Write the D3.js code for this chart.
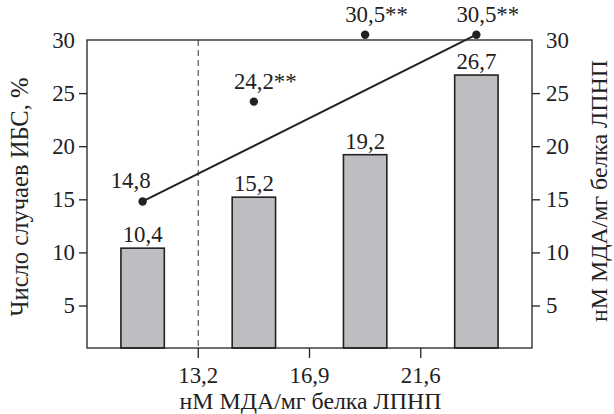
<!DOCTYPE html>
<html>
<head>
<meta charset="utf-8">
<script src="https://cdn.jsdelivr.net/npm/d3@7/dist/d3.min.js"></script>
<style>
  html, body { margin: 0; padding: 0; background: #fff; }
</style>
</head>
<body>
<svg id="chart" width="614" height="414"></svg>
<script>
// Groups along the x axis (quartiles of MDA per mg LDL protein)
const groups = ["Q1", "Q2", "Q3", "Q4"];
// Quartile cut points shown between groups
const cutLabels = ["13,2", "16,9", "21,6"];
// Share of CHD cases per group, % (bars, left axis)
const chdPercent = [10.4, 15.2, 19.2, 26.7];
// Mean MDA level per group (points, right axis)
const mdaLevel = [14.8, 24.2, 30.5, 30.5];
// Significance marks next to point labels
const mdaMarks = ["", "**", "**", "**"];
// Y tick values, both axes
const yTicks = [5, 10, 15, 20, 25, 30];

const FONT = "'Liberation Serif', 'Times New Roman', 'DejaVu Serif', serif";
const fmt = v => String(v).replace(".", ",");
const ink = "#222";

const svg = d3.select("#chart");
const margin = { left: 87, right: 82, top: 40, bottom: 66 };
const W = 614, H = 414;
const x0 = margin.left, x1 = W - margin.right;
const y0 = H - margin.bottom, y1 = margin.top;

// Font size that gives a string the wanted rendered length
function sizeFor(str, length) {
  const t = svg.append("text").style("font-family", FONT).style("font-size", "100px").text(str);
  const w = t.node().getComputedTextLength();
  t.remove();
  return 100 * length / w;
}
const fsNum = sizeFor("10,4", 40);
const fsTitleX = sizeFor("нМ МДА/мг белка ЛПНП", 262);
const fsTitleL = sizeFor("Число случаев ИБС, %", 239);

function styleText(sel, size) {
  return sel.style("font-family", FONT).style("font-size", size + "px").style("fill", ink);
}

const x = d3.scaleBand().domain(groups).range([x0, x1])
  .paddingInner(0.61).paddingOuter(0.305);
const y = d3.scaleLinear().domain([1, 30]).range([y0, y1]);
const yR = d3.scaleLinear().domain([1, 30]).range([y0, y1]);

// Bars
svg.append("g").selectAll("rect").data(groups).join("rect")
  .attr("x", d => x(d))
  .attr("width", x.bandwidth())
  .attr("y", (d, i) => y(chdPercent[i]))
  .attr("height", (d, i) => y0 - y(chdPercent[i]))
  .attr("fill", "#bdbec2")
  .attr("stroke", ink)
  .attr("stroke-width", 1.6);

// Bar value labels
styleText(svg.append("g").selectAll("text").data(groups).join("text")
  .attr("x", d => x(d) + x.bandwidth() / 2)
  .attr("y", (d, i) => y(chdPercent[i]) - 6)
  .attr("text-anchor", "middle")
  .text((d, i) => fmt(chdPercent[i])), fsNum);

// Dashed threshold line at the first cut point
const cutX = (x(groups[0]) + x.bandwidth() + x(groups[1])) / 2;
svg.append("line")
  .attr("x1", cutX).attr("x2", cutX)
  .attr("y1", y1).attr("y2", y0)
  .attr("stroke", "#555").attr("stroke-width", 1.2)
  .attr("stroke-dasharray", "6,4");

// Frame
svg.append("rect")
  .attr("x", x0).attr("y", y1)
  .attr("width", x1 - x0).attr("height", y0 - y1)
  .attr("fill", "none").attr("stroke", ink).attr("stroke-width", 1.3);

// Left axis
const leftAxis = svg.append("g").attr("transform", `translate(${x0},0)`)
  .call(d3.axisLeft(y).tickValues(yTicks).tickSize(8).tickPadding(4).tickFormat(fmt));
// Right axis
const rightAxis = svg.append("g").attr("transform", `translate(${x1},0)`)
  .call(d3.axisRight(yR).tickValues(yTicks).tickSize(8).tickPadding(6).tickFormat(fmt));
[leftAxis, rightAxis].forEach(g => {
  g.attr("font-family", null).attr("font-size", null);
  g.select(".domain").remove();
  g.selectAll(".tick line").attr("stroke", ink).attr("stroke-width", 1.3)
    .filter(d => d === 30).remove();
  styleText(g.selectAll(".tick text"), fsNum);
});

// Bottom axis: cut points between groups
const cuts = groups.slice(1).map(g => x(g) - x.step() * x.paddingInner() / 2);
const bottom = svg.append("g");
bottom.selectAll("line").data(cuts).join("line")
  .attr("x1", d => d).attr("x2", d => d)
  .attr("y1", y0).attr("y2", y0 + 10)
  .attr("stroke", ink).attr("stroke-width", 1.3);
styleText(bottom.selectAll("text").data(cuts).join("text")
  .attr("x", d => d).attr("y", y0 + 35)
  .attr("text-anchor", "middle")
  .text((d, i) => cutLabels[i]), fsNum);

// Trend line between first and last group means
const cx = d => x(d) + x.bandwidth() / 2;
const last = groups.length - 1;
svg.append("line")
  .attr("x1", cx(groups[0])).attr("y1", yR(mdaLevel[0]))
  .attr("x2", cx(groups[last])).attr("y2", yR(mdaLevel[last]))
  .attr("stroke", ink).attr("stroke-width", 2);

// Points
svg.append("g").selectAll("circle").data(groups).join("circle")
  .attr("cx", cx).attr("cy", (d, i) => yR(mdaLevel[i]))
  .attr("r", 4.2).attr("fill", ink);

// Point labels: value centered over the point, marks appended after
const pl = svg.append("g").selectAll("g").data(groups).join("g")
  .attr("transform", (d, i) => {
    const dx = i === 0 ? -12 : 0;
    return `translate(${cx(d) + dx},${yR(mdaLevel[i]) - 13})`;
  });
const valText = styleText(pl.append("text").attr("text-anchor", "middle")
  .text((d, i) => fmt(mdaLevel[i])), fsNum);
styleText(pl.append("text").attr("text-anchor", "start")
  .attr("x", (d, i) => valText.nodes()[i].getComputedTextLength() / 2)
  .text((d, i) => mdaMarks[i]), fsNum);

// Axis titles
styleText(svg.append("text")
  .attr("transform", `translate(${x0 + (x1 - x0) / 2 + 1},${H - 5})`)
  .attr("text-anchor", "middle")
  .text("нМ МДА/мг белка ЛПНП"), fsTitleX);
styleText(svg.append("text")
  .attr("transform", `translate(28,197) rotate(-90)`)
  .attr("text-anchor", "middle")
  .text("Число случаев ИБС, %"), fsTitleL);
styleText(svg.append("text")
  .attr("transform", `translate(607,191) rotate(-90)`)
  .attr("text-anchor", "middle")
  .text("нМ МДА/мг белка ЛПНП"), fsTitleX);
</script>
</body>
</html>
